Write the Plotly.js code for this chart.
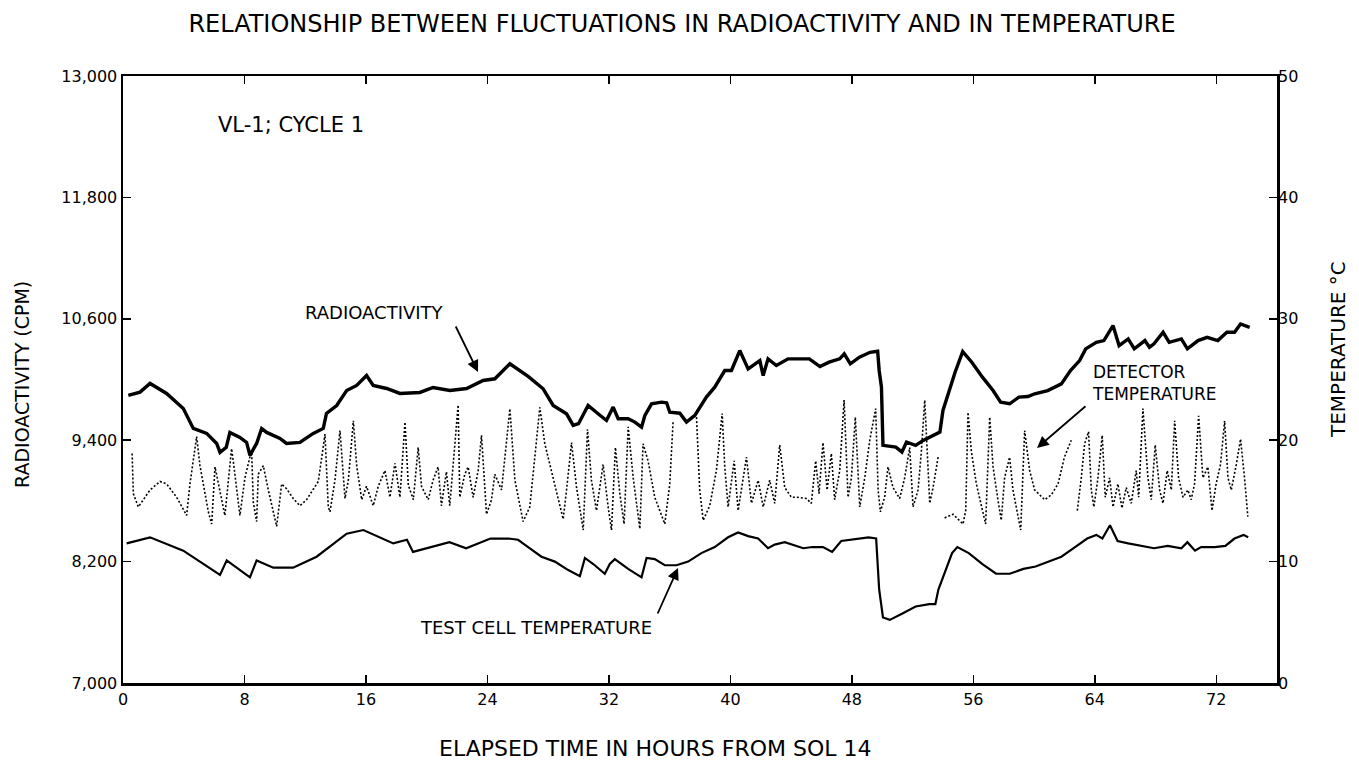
<!DOCTYPE html>
<html>
<head>
<meta charset="utf-8">
<script src="https://cdn.plot.ly/plotly-3.0.1.min.js"></script>
<style>html,body{margin:0;padding:0;background:#fff;}#chart{width:1359px;height:765px;}</style>
</head>
<body>
<div id="chart"></div>
<script>
// ---- Data ----
var raHours = [0.35,1.12,1.78,2.87,3.97,4.63,5.51,6.17,6.39,6.8,7.04,7.7,8.14,8.36,8.8,9.13,9.46,10.34,10.77,11.65,12.53,13.19,13.4,14.07,14.73,15.39,16.04,16.48,17.36,18.24,19.55,20.42,21.53,22.63,23.72,24.49,25.48,26.68,27.67,28.33,29.21,29.65,30.0,30.63,31.29,31.84,32.28,32.61,33.27,33.71,34.15,34.37,34.81,35.46,35.8,36.01,36.67,37.11,37.66,38.42,38.97,39.63,40.07,40.62,41.17,41.94,42.16,42.48,43.03,43.8,45.2,45.9,46.5,47.2,47.5,47.9,48.5,49.2,49.7,49.8,49.95,50.05,50.9,51.3,51.6,52.2,52.7,53.3,53.8,54.0,54.4,54.8,55.3,55.9,56.6,57.3,57.8,58.4,59.0,59.6,60.04,60.9,61.8,62.4,63.0,63.4,64.1,64.6,65.2,65.6,66.2,66.6,67.3,67.6,67.9,68.5,68.9,69.7,70.1,70.8,71.4,72.1,72.7,73.2,73.6,74.2];
var raCpm = [9842,9875,9961,9862,9714,9516,9467,9368,9280,9330,9477,9428,9378,9250,9368,9516,9477,9418,9368,9378,9467,9516,9664,9743,9891,9941,10040,9941,9911,9862,9872,9921,9891,9911,9990,10007,10155,10030,9908,9743,9661,9546,9563,9743,9661,9595,9727,9612,9612,9579,9529,9645,9760,9776,9770,9677,9667,9579,9645,9826,9924,10089,10089,10286,10105,10187,10039,10204,10138,10204,10204,10128,10171,10204,10253,10155,10220,10269,10279,10089,9924,9349,9332,9283,9382,9349,9398,9447,9480,9694,9891,10072,10276,10171,10023,9891,9776,9760,9826,9832,9859,9891,9957,10089,10187,10303,10368,10385,10533,10335,10401,10303,10385,10319,10352,10467,10368,10401,10303,10385,10417,10385,10467,10467,10549,10516];

var tcHours = [0.24,1.78,3.97,6.39,6.83,8.36,8.8,9.9,11.2,12.75,14.73,15.83,17.8,18.7,19.1,20.4,21.5,22.6,24.2,25.37,26.02,26.68,27.56,28.44,29.32,30.09,30.42,30.97,31.73,32.06,32.39,33.27,34.15,34.48,35.02,35.68,36.45,37.22,38.09,38.97,39.85,40.51,41.17,41.83,42.48,42.92,43.58,44.8,45.4,46.1,46.7,47.3,48.3,49.1,49.6,49.7,49.8,50.05,50.5,51.3,52.2,53.1,53.5,53.7,54.1,54.6,54.95,55.7,56.6,57.5,58.4,59.3,60.1,60.9,61.8,62.7,63.5,64.1,64.5,65.0,65.5,66.2,67.1,67.9,68.8,69.7,70.1,70.6,71.0,71.9,72.6,73.2,73.8,74.1];
var tcTemp = [11.5,12.0,10.9,8.9,10.1,8.7,10.1,9.5,9.5,10.4,12.3,12.6,11.5,11.8,10.8,11.2,11.6,11.1,11.9,11.9,11.8,11.2,10.4,10.0,9.3,8.8,10.3,9.8,9.0,9.8,10.2,9.4,8.7,10.3,10.2,9.7,9.7,10.0,10.7,11.2,12.0,12.4,12.1,11.9,11.1,11.4,11.6,11.1,11.2,11.2,10.8,11.7,11.9,12.0,11.9,9.3,7.7,5.4,5.2,5.7,6.3,6.5,6.5,7.7,9.1,10.7,11.2,10.7,9.8,9.0,9.0,9.4,9.6,10.0,10.4,11.2,11.9,12.2,11.9,13.0,11.7,11.5,11.3,11.1,11.3,11.1,11.6,10.9,11.2,11.2,11.3,11.9,12.2,12.0];

var dtHours = [0.6,0.68,1.01,1.78,2.44,2.87,3.53,4.19,4.41,4.85,5.07,5.62,5.84,6.06,6.71,7.15,7.26,7.48,7.7,8.03,8.47,8.58,8.8,8.91,9.24,9.57,9.9,10.12,10.45,10.77,11.21,11.65,12.09,12.53,12.86,13.08,13.3,13.52,13.63,13.96,14.29,14.62,14.84,15.17,15.39,15.72,16.04,16.48,16.81,17.25,17.58,17.91,18.24,18.57,18.79,19.12,19.44,19.66,20.1,20.42,20.75,20.97,21.3,21.52,22.07,22.18,22.51,22.73,23.06,23.39,23.61,23.94,24.27,24.49,24.93,25.48,25.81,26.35,26.79,27.12,27.45,27.78,28.22,28.66,28.99,29.21,29.54,29.87,30.31,30.59,30.85,31.18,31.62,31.95,32.17,32.43,32.72,33.0,33.27,33.6,34.04,34.25,34.58,35.02,35.68,36.01,36.23,36.9,37.77,37.98,38.21,38.64,39.08,39.46,39.63,39.85,40.25,40.51,41.06,41.39,41.83,42.16,42.59,42.92,43.25,43.58,44.02,44.4,45.0,45.33,45.62,45.84,46.1,46.37,46.65,46.87,47.2,47.49,47.75,47.97,48.23,48.52,48.85,49.18,49.57,49.73,49.88,50.16,50.38,50.71,51.15,51.48,51.81,52.03,52.36,52.58,52.8,53.02,53.13,53.35,53.68,53.9,54.11,54.66,55.32,55.5,55.65,55.87,56.2,56.53,56.81,57.08,57.3,57.62,57.84,58.06,58.39,58.61,59.12,59.38,59.71,60.04,60.7,61.14,61.58,62.0,62.45,62.65,62.85,63.11,63.33,63.59,63.77,63.94,64.21,64.49,64.69,64.98,65.2,65.52,65.79,66.07,66.4,66.73,66.89,67.17,67.5,67.72,67.98,68.27,68.49,68.77,69.04,69.26,69.52,69.81,70.13,70.35,70.57,70.84,71.12,71.45,71.72,71.99,72.28,72.55,72.77,72.99,73.32,73.6,73.86,74.08];
var dtTemp = [18.9,15.6,14.5,15.9,16.6,16.4,15.3,13.8,16.4,20.3,17.9,14.1,13.1,17.8,13.8,19.3,18.3,16.2,13.8,16.9,19.2,14.9,13.3,17.2,17.9,15.9,14.1,12.9,16.4,16.0,15.2,14.6,15.1,15.9,16.6,18.5,20.5,14.5,14.1,16.7,20.8,15.2,16.7,21.6,17.9,15.1,16.2,14.6,16.2,17.5,15.3,18.1,15.3,21.5,16.3,15.1,19.4,16.2,15.1,16.7,17.8,14.6,17.4,14.6,22.9,15.3,17.2,17.8,15.3,17.5,20.4,13.9,15.1,17.2,15.9,22.6,16.7,13.3,14.5,18.6,22.7,19.7,17.5,15.3,13.5,15.9,19.8,16.1,12.6,20.9,16.7,14.2,18.0,14.5,12.6,19.4,15.6,13.1,21.1,16.9,12.7,19.7,18.3,15.3,13.1,16.4,21.6,null,21.9,15.9,13.4,14.6,17.5,22.2,17.8,14.5,18.3,14.2,18.6,14.8,16.7,14.5,16.7,14.8,19.6,16.1,15.3,15.3,15.2,14.8,18.3,15.6,19.8,15.9,18.9,15.1,17.5,23.3,15.3,16.9,21.9,14.5,16.9,20.0,22.6,15.9,14.1,15.3,17.8,16.1,15.2,16.9,19.4,14.5,15.9,19.1,23.3,16.9,14.8,16.1,18.6,null,13.6,13.9,13.1,14.2,22.3,19.1,16.4,14.5,13.1,21.9,17.8,15.1,13.4,16.9,18.6,15.9,12.6,20.8,17.5,15.9,15.1,15.5,16.4,18.6,20.0,null,14.2,16.9,19.7,20.7,15.9,14.5,16.9,20.4,15.3,16.9,14.5,16.4,14.4,16.1,14.8,17.5,15.3,22.6,16.9,15.1,19.6,15.9,14.8,17.5,15.9,21.6,16.9,15.3,15.9,15.1,16.4,22.0,16.9,17.8,14.2,16.4,18.0,21.6,16.9,15.9,18.0,20.1,16.9,13.7];

var xTicks = [0,8,16,24,32,40,48,56,64,72];
var cpmTicks = [7000,8200,9400,10600,11800,13000];
var cpmTickText = ['7,000','8,200','9,400','10,600','11,800','13,000'];
var tempTicks = [0,10,20,30,40,50];

var FONT = 'DejaVu Sans, Noto Sans, sans-serif';

var traces = [
  {x: raHours, y: raCpm, mode: 'lines', yaxis: 'y', line: {color: '#000', width: 3.4}, connectgaps: false, hoverinfo: 'skip'},
  {x: tcHours, y: tcTemp, mode: 'lines', yaxis: 'y2', line: {color: '#000', width: 2.2}, hoverinfo: 'skip'},
  {x: dtHours, y: dtTemp, mode: 'lines', yaxis: 'y2', line: {color: '#000', width: 1.6, dash: '2px,2px'}, connectgaps: false, hoverinfo: 'skip'}
];

function px(X){return (X-123)/1154;}
function py(Y){return (683-Y)/607;}

var layout = {
  width: 1359, height: 765,
  margin: {l: 123, r: 82, t: 76, b: 82},
  paper_bgcolor: '#fff', plot_bgcolor: '#fff',
  showlegend: false,
  font: {family: FONT, color: '#000'},
  title: {text: 'RELATIONSHIP BETWEEN FLUCTUATIONS IN RADIOACTIVITY AND IN TEMPERATURE',
          font: {family: FONT, size: 24, color: '#000'},
          xref: 'container', yref: 'container', x: 682/1359, y: 1-24/765, xanchor: 'center', yanchor: 'middle'},
  xaxis: {range: [0, 76], tickvals: xTicks, ticktext: xTicks.map(String),
          showline: true, linecolor: '#000', linewidth: 2.5, mirror: 'ticks',
          ticks: 'inside', ticklen: 8, tickwidth: 1.5, tickcolor: '#000',
          showgrid: false, zeroline: false, tickfont: {family: FONT, size: 16, color: '#000'}},
  yaxis: {range: [7000, 13000], tickvals: cpmTicks, ticktext: cpmTickText,
          showline: true, linecolor: '#000', linewidth: 2.5, mirror: 'ticks',
          ticks: 'inside', ticklen: 8, tickwidth: 1.5, tickcolor: '#000',
          showgrid: false, zeroline: false, tickfont: {family: FONT, size: 16, color: '#000'}},
  yaxis2: {range: [0, 50], tickvals: tempTicks, ticktext: tempTicks.map(String),
           overlaying: 'y', side: 'right', showline: false, ticks: '', showgrid: false, zeroline: false,
           tickfont: {family: FONT, size: 16, color: '#000'}},
  annotations: [
    {xref: 'paper', yref: 'paper', x: px(655), y: py(748), text: 'ELAPSED TIME IN HOURS FROM SOL 14', showarrow: false,
     font: {size: 22}, xanchor: 'center', yanchor: 'middle'},
    {xref: 'paper', yref: 'paper', x: px(22), y: py(385), text: 'RADIOACTIVITY (CPM)', textangle: -90, showarrow: false,
     font: {size: 19}, xanchor: 'center', yanchor: 'middle'},
    {xref: 'paper', yref: 'paper', x: px(1338), y: py(350), text: 'TEMPERATURE °C', textangle: -90, showarrow: false,
     font: {size: 20}, xanchor: 'center', yanchor: 'middle'},
    {xref: 'paper', yref: 'paper', x: px(216), y: py(125), text: 'VL-1; CYCLE 1', showarrow: false,
     font: {size: 21}, xanchor: 'left', yanchor: 'middle'},
    {xref: 'paper', yref: 'paper', x: px(374), y: py(312), text: 'RADIOACTIVITY', showarrow: false,
     font: {size: 18}, xanchor: 'center', yanchor: 'middle'},
    {xref: 'paper', yref: 'paper', x: px(1090), y: py(383), text: 'DETECTOR<br>TEMPERATURE', showarrow: false, align: 'left',
     font: {size: 17}, xanchor: 'left', yanchor: 'middle'},
    {xref: 'paper', yref: 'paper', x: px(536), y: py(627), text: 'TEST CELL TEMPERATURE', showarrow: false,
     font: {size: 18}, xanchor: 'center', yanchor: 'middle'},
    {xref: 'paper', yref: 'paper', x: px(478), y: py(372), text: '', showarrow: true, ax: -23, ay: -47,
     arrowhead: 2, arrowsize: 1.3, arrowwidth: 1.8, arrowcolor: '#000'},
    {xref: 'paper', yref: 'paper', x: px(1037), y: py(448), text: '', showarrow: true, ax: 50, ay: -43,
     arrowhead: 2, arrowsize: 1.3, arrowwidth: 1.8, arrowcolor: '#000'},
    {xref: 'paper', yref: 'paper', x: px(678), y: py(568), text: '', showarrow: true, ax: -21, ay: 47,
     arrowhead: 2, arrowsize: 1.3, arrowwidth: 1.8, arrowcolor: '#000'}
  ]
};

Plotly.newPlot('chart', traces, layout, {staticPlot: true, displayModeBar: false});
</script>
</body>
</html>
